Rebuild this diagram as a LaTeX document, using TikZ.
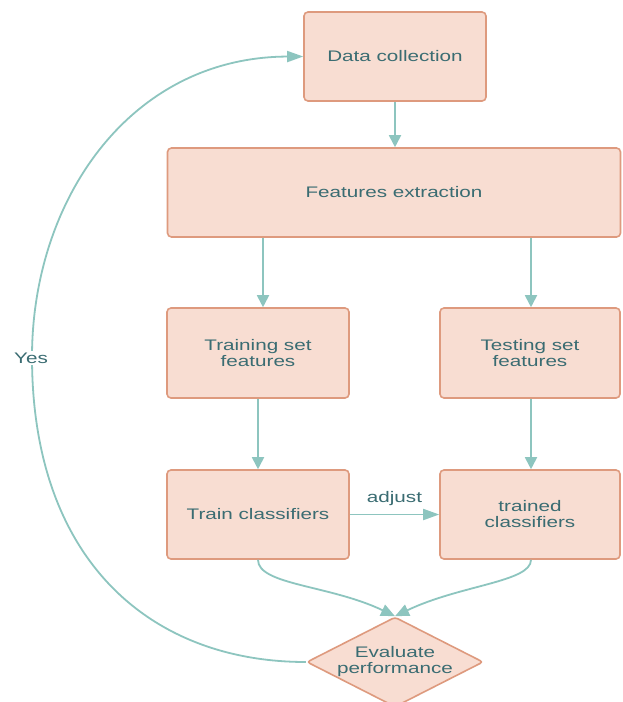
\documentclass[tikz,border=0pt]{standalone}
\usepackage{fontspec}
\setmainfont[FakeStretch=1.35]{Liberation Sans}
\usetikzlibrary{arrows.meta,shapes.geometric}
\definecolor{boxfill}{HTML}{F8DDD2}
\definecolor{boxline}{HTML}{DE9A7E}
\definecolor{connc}{HTML}{8DC5BF}
\definecolor{txt}{HTML}{3A6C72}
\begin{document}
\begin{tikzpicture}[x=1pt,y=-1pt,
  box/.style={draw=boxline,fill=boxfill,line width=1.6pt,rounded corners=4pt,
    text=txt,align=center,font=\fontsize{15.3}{16}\selectfont,inner sep=0pt},
  lbl/.style={text=txt,font=\fontsize{15.3}{16}\selectfont},
  conn/.style={draw=connc,line width=1.8pt,-{Triangle[length=12pt,width=12pt]}},
  hconn/.style={conn,-{Triangle[length=16pt,width=11pt]}},
]
\useasboundingbox[fill=white] (0,0) rectangle (622,702);
\node[box,minimum width=182pt,minimum height=89pt] (dc) at (395,56.5) {Data collection};
\node[box,minimum width=453pt,minimum height=89pt] (fe) at (394,192.5) {Features extraction};
\node[box,minimum width=182pt,minimum height=90pt] (tr) at (258,353) {Training set\\features};
\node[box,minimum width=180pt,minimum height=90pt] (te) at (530,353) {Testing set\\features};
\node[box,minimum width=182pt,minimum height=89pt] (tc) at (258,514.5) {Train classifiers};
\node[box,minimum width=180pt,minimum height=89pt] (td) at (530,514.5) {trained\\classifiers};
\node[box,shape=diamond,aspect=2,rounded corners=3pt,minimum width=176pt,minimum height=90pt] (ev) at (395,662) {Evaluate\\performance};
\coordinate (xl) at (263,0);
\coordinate (xr) at (531,0);
\draw[conn] (dc.south) -- (fe.north -| dc.south);
\draw[conn] (fe.south -| xl) -- (tr.north -| xl);
\draw[conn] (fe.south -| xr) -- (te.north -| xr);
\draw[conn] (tr.south) -- (tc.north);
\draw[conn] (te.south -| xr) -- (td.north -| xr);
\draw[hconn] (tc.east) -- node[lbl,above=5pt] (adj) {adjust} (td.west);
\draw[conn,-{Triangle[length=14pt,width=12pt]}] (tc.south) .. controls (258,585) and (330,585) .. (ev.north);
\draw[conn,-{Triangle[length=14pt,width=12pt]}] (td.south -| xr) .. controls (531,582) and (460,585) .. (ev.north);
\draw[hconn] (ev.west) .. controls (150,662) and (32,560) .. (32,357) .. controls (32,200) and (130,57) .. (dc.west);
\node[lbl,fill=white,inner sep=2pt] (yes) at (31,358) {Yes};
\end{tikzpicture}
\end{document}
